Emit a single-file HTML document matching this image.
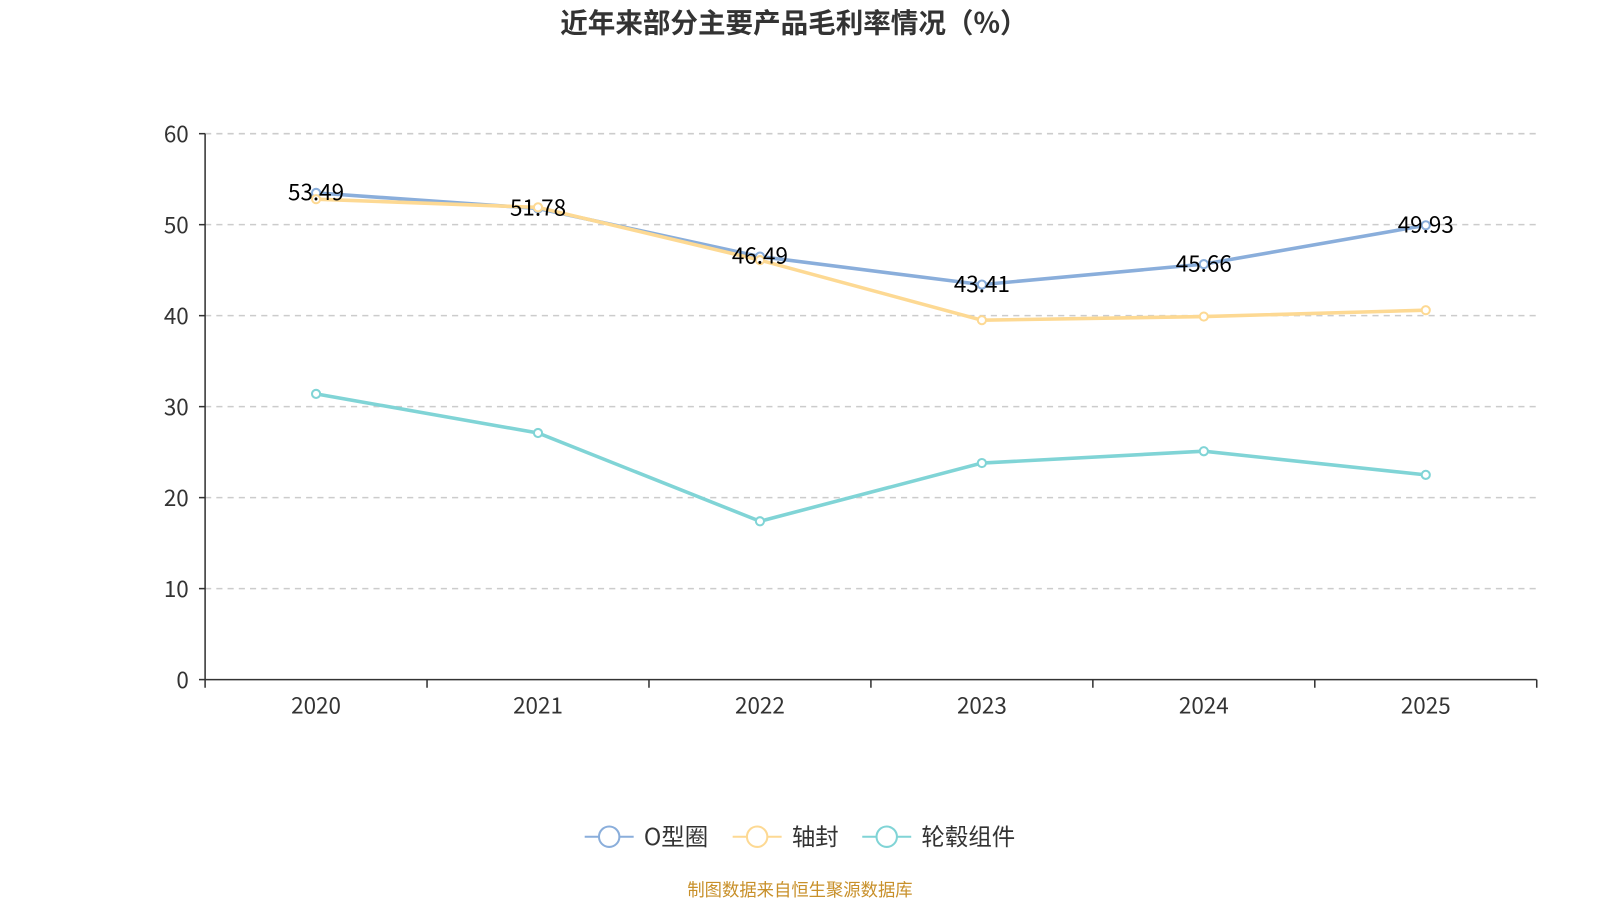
<!DOCTYPE html>
<html><head><meta charset="utf-8">
<style>
html,body{margin:0;padding:0;background:#fff;}
svg{display:block;font-family:"Noto Sans CJK SC","Liberation Sans",sans-serif;}
</style></head>
<body>
<svg id="chart" width="1600" height="900" viewBox="0 0 1568 882">
<text x="778" y="32" text-anchor="middle" font-size="27" font-weight="bold" fill="#333">近年来部分主要产品毛利率情况（%）</text>
<g id="grid"></g>
<g id="axes"></g>
<g id="series"></g>
<g id="legend"></g>
<text x="784" y="878" text-anchor="middle" font-size="17" fill="#c8902a">制图数据来自恒生聚源数据库</text>
</svg>
<script>
const categories = ["2020","2021","2022","2023","2024","2025"];
const oring = [53.49, 51.78, 46.49, 43.41, 45.66, 49.93];
const seal = [52.8, 51.9, 46.1, 39.5, 39.9, 40.6];
const hub = [31.4, 27.1, 17.4, 23.8, 25.1, 22.5];
const yTicks = [0,10,20,30,40,50,60];
const seriesNames = ["O型圈","轴封","轮毂组件"];

const NS="http://www.w3.org/2000/svg";
const L=201,R=1506,T=131,B=666,yMax=60;
const band=(R-L)/categories.length;
const x=i=>L+band*(i+0.5);
const y=v=>B-(v/yMax)*(B-T);
function mk(tag,attrs,parent,text){const e=document.createElementNS(NS,tag);for(const k in attrs)e.setAttribute(k,attrs[k]);if(text!==undefined)e.textContent=text;parent.appendChild(e);return e;}
const grid=document.getElementById('grid'),axes=document.getElementById('axes'),ser=document.getElementById('series'),leg=document.getElementById('legend');
yTicks.forEach(t=>{
  if(t>0){const g=mk('line',{x1:L,x2:R,y1:y(t),y2:y(t),stroke:'#ccc','stroke-dasharray':'6,5','stroke-width':1.5},grid);
  
  }
  const tl=mk('text',{x:185,y:y(t)+8,'text-anchor':'end','font-size':22,fill:'#333'},axes,String(t));
  
  
  mk('line',{x1:195,x2:L,y1:y(t),y2:y(t),stroke:'#333','stroke-width':1.5},axes);
});
const ya=mk('line',{x1:L,x2:L,y1:T,y2:B,stroke:'#333','stroke-width':1.5},axes);


const xa=mk('line',{x1:L,x2:R,y1:B,y2:B,stroke:'#333','stroke-width':1.5},axes);


for(let i=0;i<=categories.length;i++){mk('line',{x1:L+band*i,x2:L+band*i,y1:B,y2:B+8,stroke:'#333','stroke-width':1.5},axes);}
categories.forEach((c,i)=>{
  const t=mk('text',{x:x(i),y:B+33,'text-anchor':'middle','font-size':22,fill:'#333'},axes,c);
  
  
});
const colors=['#8aaedb','#fdd993','#80d4d6'];
const all=[oring,seal,hub];
all.forEach((d,s)=>{
  const p=mk('polyline',{points:d.map((v,i)=>x(i)+','+y(v)).join(' '),fill:'none',stroke:colors[s],'stroke-width':3.5},ser);
  
  
  d.forEach((v,i)=>{
    const c=mk('circle',{cx:x(i),cy:y(v),r:4,fill:'#fff',stroke:colors[s],'stroke-width':2},ser);
    
    
  });
});
oring.forEach((v,i)=>{
  const t=mk('text',{x:x(i),y:y(v)+7,'text-anchor':'middle','font-size':22,fill:'#000'},ser,v.toFixed(2));
  
  
});
const lx=[573,718,845];
seriesNames.forEach((n,s)=>{
  const g=mk('g',{},leg);
  
  
  mk('line',{x1:lx[s],x2:lx[s]+48,y1:820,y2:820,stroke:colors[s],'stroke-width':2},g);
  mk('circle',{cx:lx[s]+24,cy:820,r:10,fill:'#fff',stroke:colors[s],'stroke-width':2},g);
  mk('text',{x:lx[s]+58,y:828,'font-size':23,fill:'#333'},g,n);
});
</script>
</body></html>
